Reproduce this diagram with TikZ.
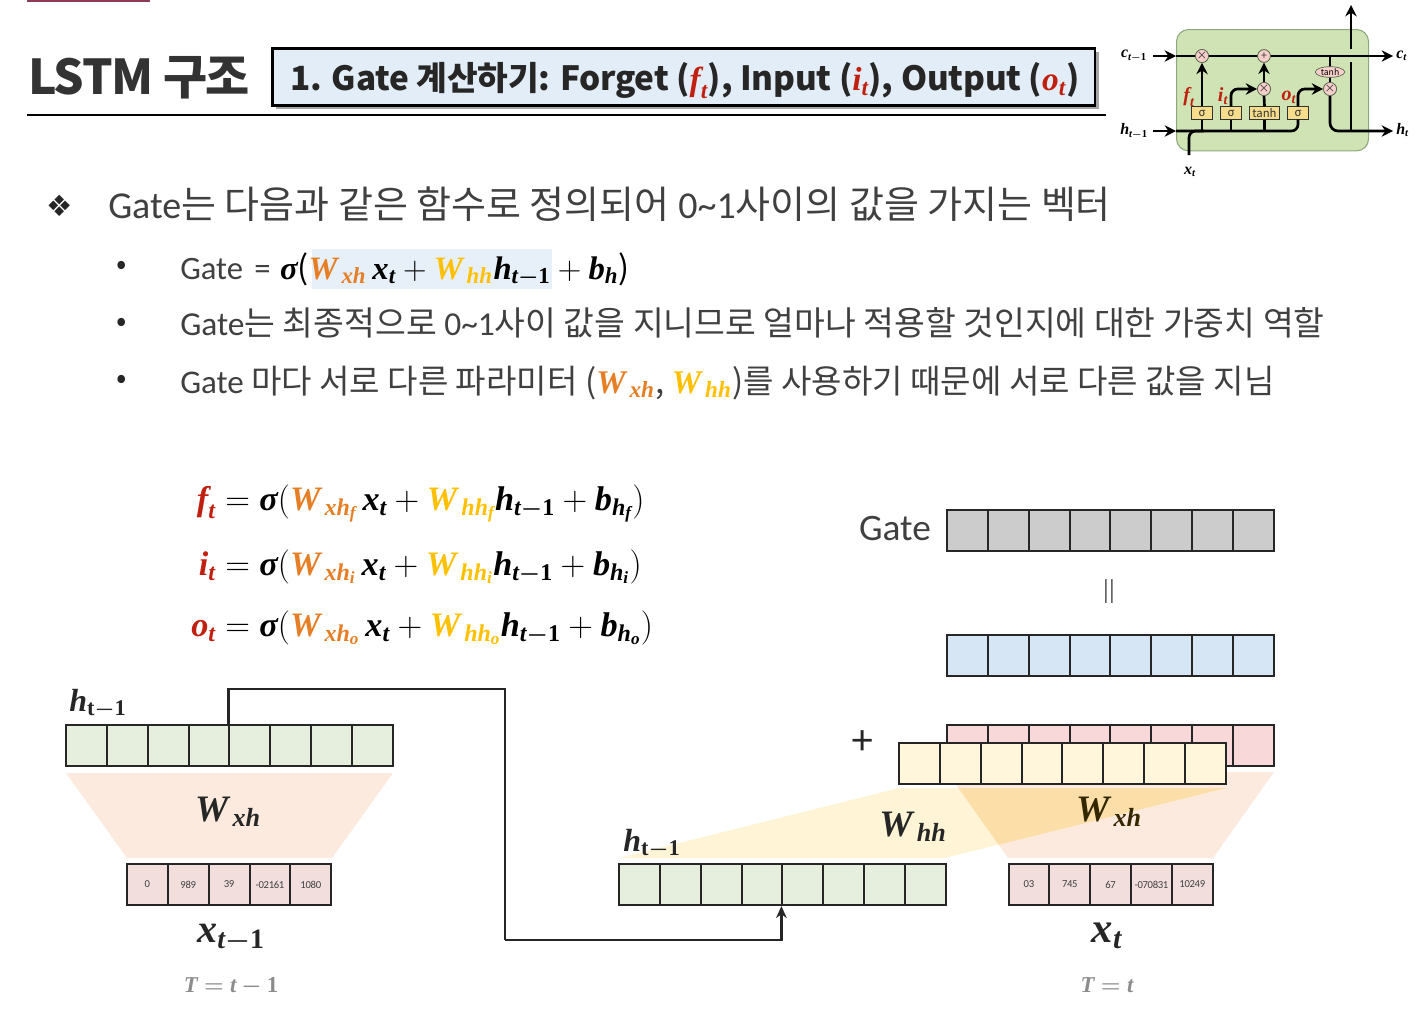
\documentclass[tikz,border=0pt]{standalone}
\usepackage{fix-cm}
\usepackage{amsmath}
\usepackage{bm}
\usepackage{xcolor}
\usepackage{fontspec}
\setmainfont{Noto Sans CJK KR}
\newfontfamily\symfont{DejaVu Sans}
\newfontfamily\eqfont{Liberation Serif}
\newfontfamily\lafont{Carlito}
\usepackage{tikz}
\usetikzlibrary{shapes.geometric, arrows.meta, positioning, calc, shadows}
\definecolor{Ink}    {HTML}{404040}
\definecolor{Barmark}{HTML}{8E3B55}
\definecolor{Redgate}{HTML}{C0200F}
\definecolor{Orange} {HTML}{E57E25}
\definecolor{Amber}  {HTML}{FFC000}
\definecolor{Titlebg}{HTML}{E3EDF7}
\definecolor{Hilite} {HTML}{E7F0F9}
\definecolor{Greenc} {HTML}{E6EEDD}
\definecolor{Grayc}  {HTML}{CDCCCC}
\definecolor{Bluec}  {HTML}{D6E6F4}
\definecolor{Redc}   {HTML}{F8D8D8}
\definecolor{Yelc}   {HTML}{FFF6DC}
\definecolor{Pinkc}  {HTML}{F2DFDD}
\definecolor{Peach}  {HTML}{ED7D31}
\definecolor{Cellg}  {HTML}{CFE3B5}
\definecolor{Celle}  {HTML}{8FA77E}
\definecolor{Gatey}  {HTML}{F5DD8C}
\definecolor{Opink}  {HTML}{F6CFCB}
\newcommand{\fsz}[1]{\fontsize{#1}{#1}\selectfont}
\newcommand{\la}[1]{{\lafont #1}}
\newcommand{\mi}[1]{\text{\eqfont\bfseries\itshape #1}}
\newcommand{\mb}[1]{\text{\eqfont\bfseries #1}}
\newcommand{\mr}[1]{\text{\eqfont\itshape #1}}
\newcommand{\wxh}[1]{\textcolor{Orange}{\mi{W}_{\,\mi{xh}_{\mi{#1}}}}}
\newcommand{\whh}[1]{\textcolor{Amber}{\mi{W}_{\,\mi{hh}_{\mi{#1}}}}}
\newcommand{\hprevsym}{\mi{h}_{\mi{t}\bm{-}\mb{1}}}
\newcommand{\xsym}{\mi{x}_{\mi{t}}}
\newcommand{\bsym}[1]{\mi{b}_{\mi{h}_{\mi{#1}}}}
\newcommand{\cellrow}[5]{%
  \foreach \i in {1,...,#4}
    \node[cellbox,#5] (#1-\i) at ({#2+(\i-1)*40.85},#3) {};}
\tikzset{
  cellbox/.style={draw=black!85, line width=1.5pt, anchor=north west, inner sep=0pt,
                  minimum width=30.64pt, minimum height=30.8pt, font=\lafont\fsz{8}\color{Ink}},
  txt/.style={anchor=base west, inner sep=0pt, text=Ink},
  eqn/.style={inner sep=0pt, text=black, font=\fsz{25.7}},
  lab/.style={inner sep=0pt, text=black!85},
  flow/.style={draw=black!85, line width=2.2pt},
  lstm/.style={line width=2pt, draw=black},
  lstmarr/.style={lstm, -{Stealth[length=8.5pt,width=8.5pt]}},
  opc/.style={circle, draw=Celle!60!black, fill=Opink, line width=.5pt, inner sep=0pt,
              minimum size=9.5pt, font=\fsz{8}\color{black!80}},
  gatebox/.style={draw=black!80, fill=Gatey, line width=.6pt, inner sep=0pt,
                  minimum width=16pt, minimum height=9.5pt, font=\fsz{8.5}\color{black!80}},
  tag/.style={inner sep=0pt, text=black, font=\fsz{12}},
  redtag/.style={inner sep=0pt, text=Redgate, font=\fsz{15}}
}
\begin{document}
\begin{tikzpicture}[x=.75pt,y=-.75pt]
  \useasboundingbox (0,0) rectangle (1419,1018);
  \fill[Barmark] (27,0) rectangle (150,2);
  \node[txt,text=black!80,font=\fsz{36}\bfseries\addfontfeature{LetterSpace=-3}] (title) at (28,94) {LSTM 구조};
  \node[draw=black,line width=1.9pt,fill=Titlebg,inner sep=0pt,minimum width=617pt,minimum height=43pt,
        anchor=north west,drop shadow={shadow xshift=2.8pt,shadow yshift=-2.8pt,opacity=.5,fill=black!70}] (head) at (271,47) {};
  \node[txt,text=black!85,font=\fsz{25}\bfseries\addfontfeature{LetterSpace=-.6}] (headtxt) at (290,90)
    {1. Gate 계산하기: Forget ($\textcolor{Redgate}{\mi{f}_{\mr{t}}}$), Input ($\textcolor{Redgate}{\mi{i}_{\mr{t}}}$), Output ($\textcolor{Redgate}{\mi{o}_{\mr{t}}}$)};
  \coordinate (ruleL) at (27,115);
  \coordinate (ruleR) at (1106,115);
  \draw[line width=1.7pt] (ruleL) -- (ruleR);

  \node[inner sep=0pt,text=black!85,font=\symfont\fsz{22}] (star) at (60,206) {❖};
  \node[txt,font=\fsz{28.5}] (line0) at (108,218) {\la{Gate}는 다음과 같은 함수로 정의되어 \la{0\char`~1}사이의 값을 가지는 벡터};
  \foreach \yy/\nn in {268/a,325/b,382/c}
    \node[inner sep=0pt,text=black!85,font=\fsz{23}] (dot\nn) at (122,\yy) {•};
  \node[fill=Hilite,inner sep=0pt,minimum width=180pt,minimum height=30pt,anchor=north west] (hilite) at (312,249) {};
  \node[txt,font=\fsz{24.5}] (line1) at (180,279)
    {\la{Gate\hspace{3pt} =}\hspace{7pt}{\color{black}$\mi{σ}$($\wxh{}\,\xsym+\whh{}\hprevsym+\mi{b}_{\mi{h}}$)}};
  \node[txt,font=\fsz{25.1}] (line2) at (180,335) {\la{Gate}는 최종적으로 \la{0\char`~1}사이 값을 지니므로 얼마나 적용할 것인지에 대한 가중치 역할};
  \node[txt,font=\fsz{24.8}] (line3) at (180,393)
    {\la{Gate} 마다 서로 다른 파라미터 ($\wxh{}$, $\whh{}$)를 사용하기 때문에 서로 다른 값을 지님};

  \node[eqn,anchor=base east] (eqfl) at (216,510) {$\textcolor{Redgate}{\mi{f}_{\mi{t}}}$};
  \node[eqn,anchor=base west] (eqfr) at (225,510)
    {$=\mi{σ}(\wxh{f}\,\xsym+\whh{f}\hprevsym+\bsym{f})$};
  \node[eqn,anchor=base east] (eqil) at (216,575) {$\textcolor{Redgate}{\mi{i}_{\mi{t}}}$};
  \node[eqn,anchor=base west] (eqir) at (225,575)
    {$=\mi{σ}(\wxh{i}\,\xsym+\whh{i}\hprevsym+\bsym{i})$};
  \node[eqn,anchor=base east] (eqol) at (216,636) {$\textcolor{Redgate}{\mi{o}_{\mi{t}}}$};
  \node[eqn,anchor=base west] (eqor) at (225,636)
    {$=\mi{σ}(\wxh{o}\,\xsym+\whh{o}\hprevsym+\bsym{o})$};

  \fill[Peach,opacity=.16] (66,773) -- (393,773) -- (332,858) -- (127,858) -- cycle;
  \fill[Amber,opacity=.16] (619,858) -- (945,858) -- (1226,788) -- (899,788) -- cycle;
  \fill[Peach,opacity=.16] (947,772) -- (1274,772) -- (1213,858) -- (1008,858) -- cycle;
  \fill[Amber,opacity=.1] (958.4,788) -- (1226,788) -- (998.5,844.8) -- cycle;

  \cellrow{hprev}{65}{724}{8}{fill=Greenc}
  \cellrow{hcur}{618}{863}{8}{fill=Greenc}
  \cellrow{gray}{946}{509}{8}{fill=Grayc}
  \cellrow{blue}{946}{634}{8}{fill=Bluec}
  \cellrow{red}{946}{724}{8}{fill=Redc}
  \cellrow{yel}{898}{742}{8}{fill=Yelc}
  \foreach \v [count=\i] in {0,989,39,-02161,1080}
    \node[cellbox,fill=Pinkc] (xprev-\i) at ({126+(\i-1)*40.85},863) {\addfontfeature{LetterSpace=-3}\v};
  \foreach \v [count=\i] in {03,745,67,-070831,10249}
    \node[cellbox,fill=Pinkc] (xcur-\i) at ({1007.5+(\i-1)*40.85},863) {\addfontfeature{LetterSpace=-3}\v};

  \coordinate (hop) at (505,689);
  \coordinate (low) at (505,940);
  \draw[flow] (hprev-5.north west) |- (hop) -- (low);
  \draw[flow,-{Stealth[length=9pt,width=8pt]}] (low) -| (hcur-5.south west);

  \node[lab,font=\fsz{24},anchor=base] (lh1) at (98,711) {$\mi{h}_{\mb{t}\bm{-}\mb{1}}$};
  \node[lab,font=\fsz{24},anchor=base] (lh2) at (652,851) {$\mi{h}_{\mb{t}\bm{-}\mb{1}}$};
  \node[lab,font=\fsz{28},anchor=base] (lw1) at (228,821) {$\mi{W}_{\,\mi{xh}}$};
  \node[lab,font=\fsz{28},anchor=base] (lw2) at (913,836) {$\mi{W}_{\,\mi{hh}}$};
  \node[lab,text=black!80!Amber,font=\fsz{28},anchor=base] (lw3) at (1109,821) {$\mi{W}_{\,\mi{xh}}$};
  \node[lab,font=\fsz{30},anchor=base] (lx1) at (231,942) {$\mi{x}_{\mi{t}\bm{-}\mb{1}}$};
  \node[lab,font=\fsz{32},anchor=base] (lx2) at (1107,942) {$\mi{x}_{\mi{t}}$};
  \node[lab,text=black!45,font=\fsz{17},anchor=base] (lt1) at (231,992) {$\mi{T}\bm{=}\mi{t}\bm{-}\mb{1}$};
  \node[lab,text=black!45,font=\fsz{17},anchor=base] (lt2) at (1107,992) {$\mi{T}\bm{=}\mi{t}$};
  \node[lab,text=Ink,font=\lafont\fsz{28},anchor=base] (lgate) at (895,540) {Gate};
  \node[lab,text=Ink,font=\fsz{16}] (leq) at (1109,592) {||};
  \node[lab,font=\fsz{30}] (lplus) at (863,743) {+};

  \node[draw=Celle,fill=Cellg,line width=.8pt,rounded corners=9pt,inner sep=0pt,
        minimum width=144pt,minimum height=91pt,anchor=north west] (cellbg) at (1176,29) {};
  \node[opc] (mulf) at (1202,56) {×};
  \node[opc] (addi) at (1264,56) {+};
  \node[opc] (muli) at (1264,89) {×};
  \node[opc] (mulo) at (1330,89) {×};
  \node[gatebox] (sigf) at (1202,113) {σ};
  \node[gatebox] (sigi) at (1231,113) {σ};
  \node[gatebox,minimum width=22pt] (tanhi) at (1264.5,113) {tanh};
  \node[gatebox] (sigo) at (1298,113) {σ};
  \coordinate (cin) at (1153,56);
  \coordinate (cl) at (1176,56);
  \coordinate (cout) at (1393,56);
  \coordinate (hin) at (1153,131);
  \coordinate (hl) at (1176,131);
  \coordinate (hout) at (1393,131);
  \coordinate (xin) at (1189,155);
  \coordinate (xj) at (1204,131);
  \coordinate (upa) at (1351,131);
  \coordinate (upb) at (1351,62);
  \coordinate (upc) at (1351,49);
  \coordinate (upd) at (1351,5);
  \draw[lstmarr] (cin) -- (cl);
  \draw[lstmarr] (hin) -- (hl);
  \draw[lstmarr] (cl) -- (cout);
  \draw[lstm,rounded corners=5pt] (hl) -| (sigo.south);
  \draw[lstm,rounded corners=5pt] (xin) |- (xj);
  \draw[lstm] (sigf.south) -- (sigf.south|-hl);
  \draw[lstm] (sigi.south) -- (sigi.south|-hl);
  \draw[lstm] (tanhi.south) -- (tanhi.south|-hl);
  \draw[lstmarr] (sigf.north) -- (mulf.south);
  \draw[lstmarr,rounded corners=5pt] (sigi.north) |- (muli.west);
  \draw[lstm] (tanhi.north) -- (muli.south);
  \draw[lstmarr] (muli.north) -- (addi.south);
  \draw[lstmarr,rounded corners=5pt] (sigo.north) |- (mulo.west);
  \draw[lstm] (mulo.north) -- (mulo.north|-cl);
  \draw[lstmarr,rounded corners=6pt] (mulo.south) |- (hout);
  \draw[lstm] (upa) -- (upb);
  \draw[lstmarr] (upc) -- (upd);
  \node[opc] (mulfb) at (mulf) {×};
  \node[opc] (addib) at (addi) {+};
  \node[opc] (mulib) at (muli) {×};
  \node[opc] (mulob) at (mulo) {×};
  \node[opc,ellipse,minimum width=22pt,minimum height=8pt,font=\fsz{6.5}] (tanho) at (1330,72) {tanh};
  \node[tag,anchor=east] (tc1) at (1147,56) {$\mi{c}_{\mi{t}\bm{-}\mb{1}}$};
  \node[tag,anchor=east] (th1) at (1148,131) {$\mi{h}_{\mi{t}\bm{-}\mb{1}}$};
  \node[tag,anchor=west] (tc2) at (1396,56) {$\mi{c}_{\mi{t}}$};
  \node[tag,anchor=west] (th2) at (1396,130) {$\mi{h}_{\mi{t}}$};
  \node[tag] (tx) at (1190,172) {$\mi{x}_{\mi{t}}$};
  \node[redtag] (tf) at (1189,97) {$\mi{f}_{\mi{t}}$};
  \node[redtag] (ti) at (1223,96) {$\mi{i}_{\mi{t}}$};
  \node[redtag] (to) at (1289,97) {$\mi{o}_{\mi{t}}$};
\end{tikzpicture}
\end{document}
